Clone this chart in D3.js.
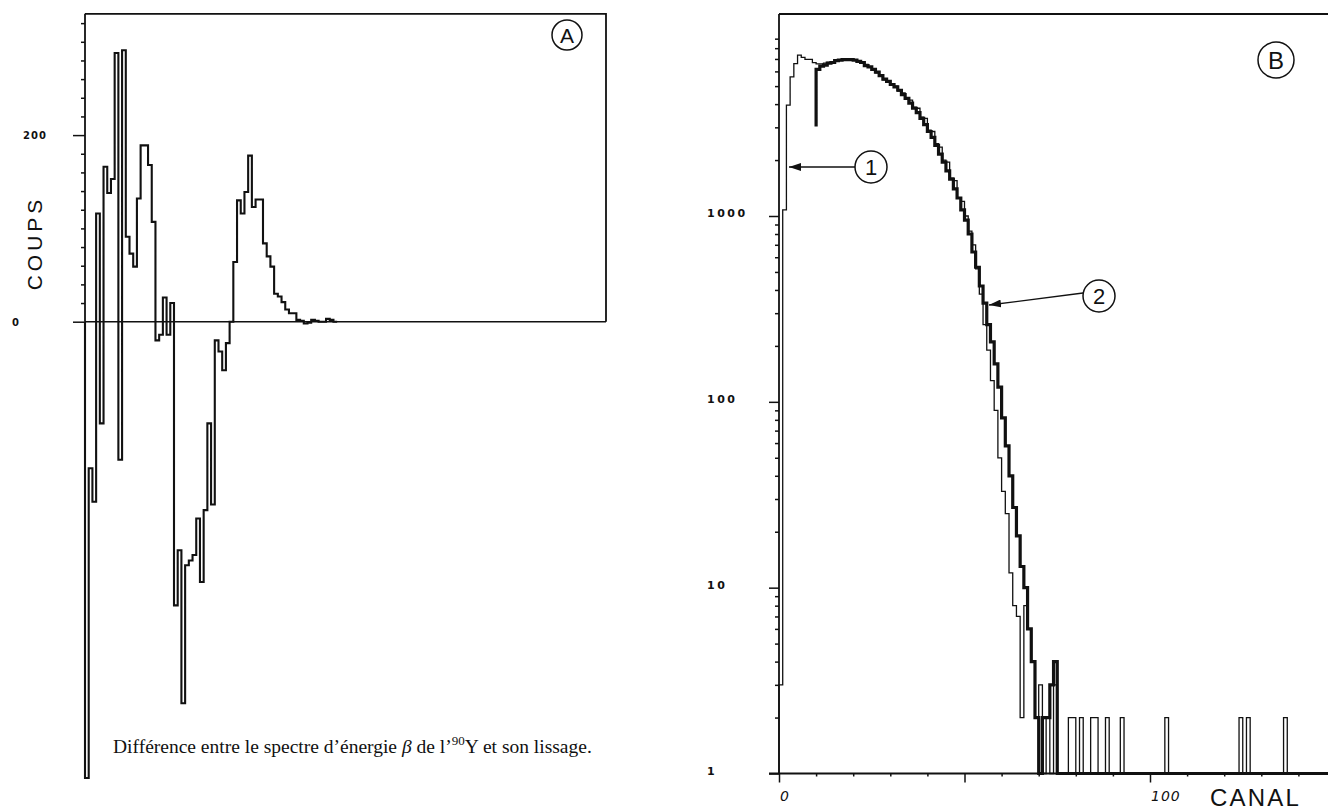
<!DOCTYPE html>
<html><head><meta charset="utf-8">
<script src="https://cdn.jsdelivr.net/npm/d3@7"></script>
<style>body{margin:0;background:#fff}svg{display:block}</style>
</head><body>
<svg id="c" width="1328" height="811"></svg>
<script>
// ---------- DATA ----------
// Panel A : difference spectrum - smoothing, one value per channel (counts)
const diffA = [-489,-157,-193,116,-109,166,138,153,288,-148,291,91,73,59,132,189,189,168,107,-20,
  -14,26,-14,20,-304,-245,-409,-261,-256,-250,-211,-279,-202,-109,-196,-20,-32,-52,-23,0,
  64,130,116,139,178,123,131,131,84,70,59,30,27,21,13,9,9,2,1,-2,-1,2,1,0,0,3,2,0];
const ticksA = [0,20,40,60,80,100,120,140,160,180,200,220,240,260,280,300,320];
const labelsA = [0,200];

// Panel B : spectrum (1) raw, channels 0.. ; (2) smoothed, starting at channel 10
const rawB = [3,1080,3950,5600,6600,7340,7130,6960,6960,6690,6580,6580,6650,6700,6700,6800,6900,6950,6950,6950,
  6900,6800,6700,6550,6350,6200,5900,5750,5400,5350,5050,5000,4700,4600,4250,4200,3850,3800,3400,3350,
  2900,2850,2450,2350,2000,1950,1600,1550,1250,1200,1000,830,700,520,380,260,190,130,90,50,
  33,25,12,8,7,2,8,6,4,2,3,0,2,0,3,0,0,0];
const rawSpikeChannels = [78,79,81,84,85,88,92,104,124,126,136]; // isolated 2-count channels
const rawSpikeValue = 2;
const smoothStartChannel = 10;
const smoothStartValue = 3030;
const smoothB = [6150,6400,6480,6650,6700,6850,6900,6950,6950,6950,
  6900,6800,6700,6450,6350,6150,5950,5700,5450,5300,5100,4950,4750,4500,4300,4050,3800,3600,3350,3100,
  2850,2650,2400,2150,1950,1750,1580,1400,1250,1080,950,800,640,530,420,340,260,210,160,120,
  82,58,40,27,19,13,10,6,4,2,0,2,2,3,4,0];
const lastChannelB = 148;
const yTicksBMajor = [1,10,100,1000];
const xTicksBMajor = [0,50,100];
const xTickLabelsB = [0,100];

// ---------- DRAW ----------
const svg = d3.select("#c");
const ink = "#111";

// ===== Panel A =====
const xA = d3.scaleLinear().domain([0,140.5]).range([85,606]);
const yA = d3.scaleLinear().domain([0,330]).range([321.7,13.8]);
const gA = svg.append("g");

gA.append("path").attr("fill","none").attr("stroke",ink).attr("stroke-width",1.8)
  .attr("d",`M${xA(0)},${yA(330)}H${xA(140.5)}V${yA(0)}`);
gA.append("line").attr("x1",xA(0)).attr("x2",xA(140.5)).attr("y1",yA(0)).attr("y2",yA(0))
  .attr("stroke",ink).attr("stroke-width",1.6);

const axA = d3.axisLeft(yA).tickValues(ticksA).tickSize(4).tickSizeOuter(0).tickFormat("");
const gAx = gA.append("g").attr("transform",`translate(${xA(0)},0)`).call(axA);
gAx.select(".domain").attr("stroke",ink).attr("stroke-width",1.8)
  .attr("d",`M0,${yA(330)}V${yA(0)}`);
gAx.selectAll(".tick line").attr("stroke",ink).attr("stroke-width",1.5)
  .attr("x2",d=>labelsA.includes(d)?-12:-4);
gA.selectAll("text.la").data(labelsA).join("text")
  .attr("x",d=>d===0?16:35).attr("y",d=>yA(d)+4)
  .attr("text-anchor","middle").attr("font-family","DejaVu Sans").attr("font-weight","bold")
  .attr("font-size",10).attr("letter-spacing",1).attr("fill",ink).text(d=>d);

gA.append("text").attr("transform","translate(42,243) rotate(-90)")
  .attr("text-anchor","middle").attr("font-family","Liberation Sans").attr("font-size",21)
  .attr("letter-spacing",4).attr("fill",ink).text("COUPS");

const ptsA = [{c:0,v:0}].concat(diffA.map((v,i)=>({c:i,v})), [{c:diffA.length,v:0}]);
gA.append("path").datum(ptsA).attr("fill","none").attr("stroke",ink).attr("stroke-width",2.1)
  .attr("stroke-linejoin","miter")
  .attr("d",d3.line().x(d=>xA(d.c)).y(d=>yA(d.v)).curve(d3.curveStepAfter));

gA.append("circle").attr("cx",567).attr("cy",35).attr("r",15).attr("fill","none").attr("stroke",ink).attr("stroke-width",1.5);
gA.append("text").attr("x",567).attr("y",42.5).attr("text-anchor","middle").attr("font-family","Liberation Sans")
  .attr("font-size",21).attr("fill",ink).text("A");

// caption
const cap = svg.append("text").attr("x",113).attr("y",753).attr("font-family","Liberation Serif")
  .attr("font-size",19.5).attr("fill",ink);
cap.append("tspan").text("Différence entre le spectre d’énergie ");
cap.append("tspan").attr("font-style","italic").text("β");
cap.append("tspan").text(" de l’");
cap.append("tspan").attr("font-size",13).attr("dy",-8).text("90");
cap.append("tspan").attr("dy",8).text("Y et son lissage.");

// ===== Panel B =====
const xB = d3.scaleLinear().domain([0,100]).range([779,1150]);
const yB = d3.scaleLog().domain([1,1000]).range([773.5,216]);
const yTop = 14;
const yv = v => yB(Math.max(1,v));
const gB = svg.append("g");

gB.append("line").attr("x1",xB(0)).attr("x2",1328).attr("y1",yTop).attr("y2",yTop)
  .attr("stroke",ink).attr("stroke-width",1.8);

const minorY = [];
[1,10,100,1000].forEach(dec=>{for(let k=2;k<=9;k++){const v=dec*k; if(yB(v)>yTop+3) minorY.push(v);}});
const axBy = d3.axisLeft(yB).tickValues(yTicksBMajor.concat(minorY)).tickSizeOuter(0).tickFormat("");
const gBy = gB.append("g").attr("transform",`translate(${xB(0)},0)`).call(axBy);
gBy.select(".domain").attr("stroke",ink).attr("stroke-width",1.8).attr("d",`M0,${yTop}V${yB(1)}`);
gBy.selectAll(".tick line").attr("stroke",ink).attr("stroke-width",1.5)
  .attr("x2",d=>yTicksBMajor.includes(d)?-10:-4);
gB.selectAll("text.ly").data(yTicksBMajor).join("text")
  .attr("x",707).attr("y",d=>yB(d)+1)
  .attr("font-family","DejaVu Sans").attr("font-weight","bold").attr("font-size",11)
  .attr("letter-spacing",2.5).attr("fill",ink).text(d=>d);

const axBx = d3.axisBottom(xB).tickValues(d3.range(0,141,10)).tickSizeOuter(0).tickFormat("");
const gBx = gB.append("g").attr("transform",`translate(0,${yB(1)})`).call(axBx);
gBx.select(".domain").attr("stroke",ink).attr("stroke-width",1.8).attr("d",`M${xB(0)-10},0H1328`);
gBx.selectAll(".tick line").attr("stroke",ink).attr("stroke-width",1.5)
  .attr("y2",d=>xTicksBMajor.includes(d)?9:3);
gB.selectAll("text.lx").data(xTickLabelsB).join("text")
  .attr("x",d=>xB(d)+1).attr("y",801)
  .attr("font-family","DejaVu Sans").attr("font-style","italic").attr("font-size",14)
  .attr("letter-spacing",1).attr("fill",ink).text(d=>d);
gB.append("text").attr("x",1210).attr("y",806).attr("font-family","Liberation Sans")
  .attr("font-size",24).attr("letter-spacing",2.2).attr("fill",ink).text("CANAL");

const rawFull = d3.range(lastChannelB+1).map(c=> c<rawB.length ? rawB[c] : (rawSpikeChannels.includes(c)?rawSpikeValue:0));
const smoothFull = d3.range(smoothStartChannel,lastChannelB+1).map(c=> {const i=c-smoothStartChannel; return i<smoothB.length?smoothB[i]:0;});
const stepLine = d3.line().x(d=>xB(d.c)).y(d=>yv(d.v)).curve(d3.curveStepAfter);

const ptsRaw = [{c:0,v:0}].concat(rawFull.map((v,c)=>({c,v})), [{c:lastChannelB+1,v:0}]);
const ptsSm = [{c:smoothStartChannel,v:smoothStartValue}].concat(smoothFull.map((v,i)=>({c:i+smoothStartChannel,v})), [{c:lastChannelB+1,v:0}]);

gB.append("path").datum(ptsSm).attr("fill","none").attr("stroke",ink).attr("stroke-width",3.2)
  .attr("d",stepLine);
gB.append("path").datum(ptsRaw).attr("fill","none").attr("stroke",ink).attr("stroke-width",1.3)
  .attr("d",stepLine);

const defs = svg.append("defs");
defs.append("marker").attr("id","ah").attr("viewBox","0 0 12 8").attr("refX",12).attr("refY",4)
  .attr("markerWidth",12).attr("markerHeight",8).attr("markerUnits","userSpaceOnUse").attr("orient","auto")
  .append("path").attr("d","M0,0L12,4L0,8Z").attr("fill",ink);

function callout(cx,cy,r,label,x1,y1,x2,y2,fs){
  gB.append("circle").attr("cx",cx).attr("cy",cy).attr("r",r).attr("fill","#fff").attr("stroke",ink).attr("stroke-width",1.5);
  gB.append("text").attr("x",cx).attr("y",cy+fs*0.36).attr("text-anchor","middle").attr("font-family","Liberation Sans")
    .attr("font-size",fs).attr("fill",ink).text(label);
  if(x1!=null) gB.append("line").attr("x1",x1).attr("y1",y1).attr("x2",x2).attr("y2",y2)
    .attr("stroke",ink).attr("stroke-width",1.3).attr("marker-end","url(#ah)");
}
callout(871,167,16,"1",855,167,789,167,22);
callout(1099,296,16,"2",1083,293,989,305,22);
callout(1276,60,18,"B",null,null,null,null,24);
</script>
</body></html>
